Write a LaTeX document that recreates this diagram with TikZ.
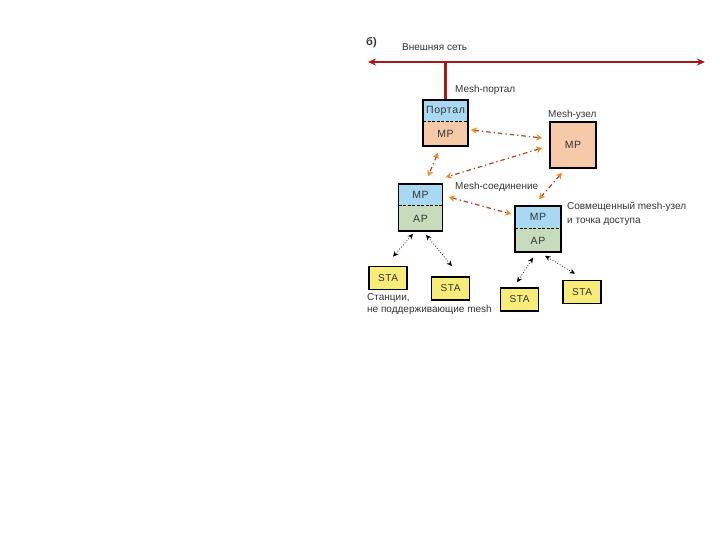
\documentclass[tikz,border=0pt]{standalone}
\usepackage{fontspec}
\setmainfont{Liberation Sans}
\newfontfamily\wideface[LetterSpace=6]{Liberation Sans}
\usetikzlibrary{arrows.meta,calc}
\definecolor{lblue}{HTML}{A9D9F2}
\definecolor{peach}{HTML}{F6C9A9}
\definecolor{lgreen}{HTML}{C6DCBC}
\definecolor{syellow}{HTML}{F7EB7A}
\definecolor{netred}{HTML}{A81818}
\definecolor{meshbrown}{HTML}{A8482A}
\definecolor{meshorange}{HTML}{EE8A22}
\definecolor{txt}{HTML}{333333}
\tikzset{
  lbl/.style={font=\fontsize{10}{12}\selectfont, text=txt, inner sep=0pt, anchor=west},
  intxt/.style={font=\wideface\fontsize{10.5}{12}\selectfont, text=txt, inner sep=0pt},
  outerbox/.style={draw=black, line width=1.6pt, minimum width=#1, inner sep=0pt},
  stabox/.style={draw=black, line width=1.6pt, fill=syellow, minimum width=38pt, minimum height=23pt, inner sep=0pt, font=\wideface\fontsize{10}{12}\selectfont, text=txt},
  meshlink/.style={draw=meshbrown, line width=1.2pt, dash pattern=on 4.5pt off 3pt on 1.3pt off 3pt,
    {Stealth[length=6pt,width=6.5pt,color=meshorange]}-{Stealth[length=6pt,width=6.5pt,color=meshorange]}},
  stalink/.style={draw=black, line width=0.75pt, dotted,
    {Stealth[length=5.5pt,width=5pt]}-{Stealth[length=5.5pt,width=5pt]}},
  divider/.style={draw=black, line width=0.9pt, dash pattern=on 3pt off 1.5pt}
}
\begin{document}
\begin{tikzpicture}[x=1pt,y=-1pt]
\useasboundingbox (0,0) rectangle (720,540);
% external network
\coordinate (netL) at (368,62);
\coordinate (netR) at (705,62);
\draw[netred, line width=2.4pt, {Stealth[length=8pt,width=7pt]}-{Stealth[length=8pt,width=7pt]}] (netL) -- (netR);
\node[lbl, font=\bfseries\fontsize{11}{12}\selectfont] (lb) at (366,43) {б)};
\node[lbl] (lnet) at (402,47) {Внешняя сеть};

% portal box
\fill[lblue] (423,100) rectangle (468,121);
\fill[peach] (423,121) rectangle (468,146);
\draw[divider] (423,121) -- (468,121);
\node[outerbox=45pt, minimum height=46pt] (portal) at (445.5,123) {};
\node[intxt] (tportal) at (445.5,110.5) {Портал};
\node[intxt] (tpmp) at (445.5,134) {MP};
\draw[netred, line width=2.4pt] (portal.north) -- (portal.north |- netL);
\node[lbl] (lportal) at (455,90) {Mesh-портал};

% mesh node
\node[outerbox=46pt, minimum height=46pt, fill=peach] (mesh) at (573,145) {};
\node[intxt] (tmmp) at (573,145) {MP};
\node[lbl] (lmesh) at (548,115) {Mesh-узел};

% left MP/AP box
\fill[lblue] (398.5,184) rectangle (442.5,205);
\fill[lgreen] (398.5,205) rectangle (442.5,231);
\draw[divider] (398.5,205) -- (442.5,205);
\node[outerbox=44pt, minimum height=47pt] (left) at (420.5,207.5) {};
\node[intxt] (tlmp) at (420.5,194.5) {MP};
\node[intxt] (tlap) at (420.5,218.5) {AP};

% right MP/AP box
\fill[lblue] (515,206) rectangle (561,228);
\fill[lgreen] (515,228) rectangle (561,252);
\draw[divider] (515,228) -- (561,228);
\node[outerbox=46pt, minimum height=46pt] (right) at (538,229) {};
\node[intxt] (trmp) at (538,217) {MP};
\node[intxt] (trap) at (538,240.5) {AP};
\node[lbl] (lcomb1) at (567,207) {Совмещенный mesh-узел};
\node[lbl] (lcomb2) at (567,222) {и точка доступа};

\node[lbl] (llink) at (455,187) {Mesh-соединение};

% stations
\node[stabox] (sta1) at (388,278) {STA};
\node[stabox] (sta2) at (450.5,288.5) {STA};
\node[stabox] (sta3) at (519.5,299.5) {STA};
\node[stabox] (sta4) at (582,292) {STA};
\node[lbl] (lsta1) at (367,298) {Станции,};
\node[lbl] (lsta2) at (367,310) {не поддерживающие mesh};

% mesh links
\draw[meshlink] ($(portal.east)+(2,7)$) -- ($(mesh.west)+(-7,-7)$);
\draw[meshlink] ($(mesh.west)+(-7,3)$) -- ($(left.north east)+(2.5,-6)$);
\draw[meshlink] ($(portal.south)+(-7.5,6)$) -- ($(left.north)+(7.5,-7)$);
\draw[meshlink] ($(mesh.south)+(-11,4)$) -- ($(right.north)+(1,-6)$);
\draw[meshlink] ($(left.east)+(5.5,-10.5)$) -- ($(right.west)+(-3,-15)$);

% station links
\draw[stalink] ($(left.south)+(-7.5,2)$) -- ($(sta1.north)+(5,-9)$);
\draw[stalink] ($(left.south)+(5.5,3)$) -- ($(sta2.north)+(1.5,-10)$);
\draw[stalink] ($(right.south)+(-5,5)$) -- ($(sta3.north)+(-2.5,-5)$);
\draw[stalink] ($(right.south)+(7,3)$) -- ($(sta4.north)+(-7,-6)$);
\end{tikzpicture}
\end{document}
